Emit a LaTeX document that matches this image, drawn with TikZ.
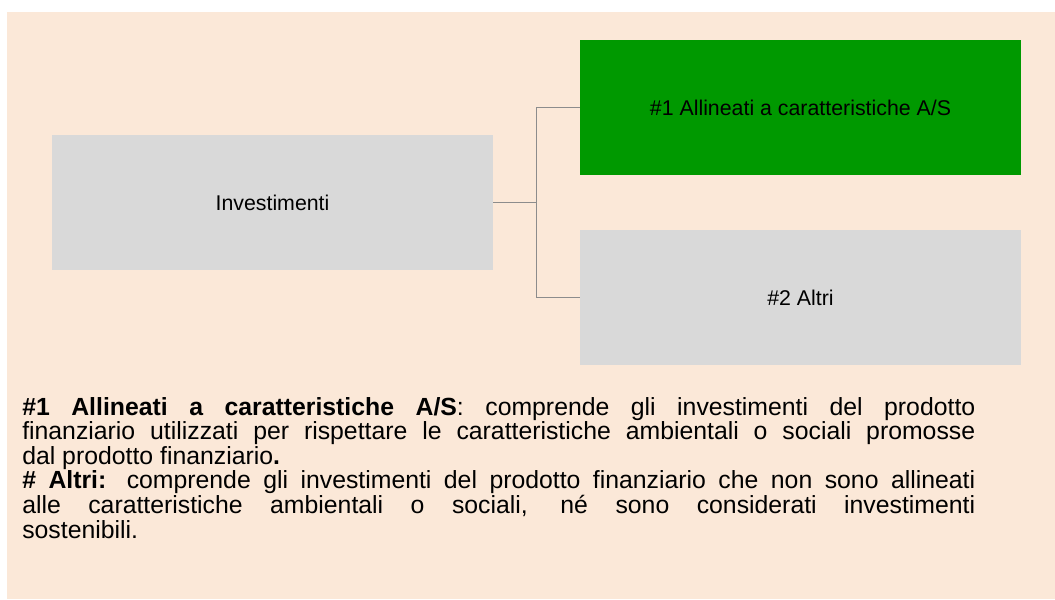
\documentclass[tikz,border=0pt]{standalone}
\usepackage{fontspec}
\setmainfont{Liberation Sans}
\definecolor{peach}{HTML}{FBE8D8}
\definecolor{boxgray}{HTML}{D9D9D9}
\definecolor{boxgreen}{HTML}{009900}
\definecolor{linegray}{HTML}{8C8C8C}
\begin{document}
\begin{tikzpicture}[x=0.75pt,y=-0.75pt,
  box/.style={rectangle, inner sep=0pt, minimum width=330.75pt, minimum height=101.25pt, font=\fontsize{16}{18.4}\selectfont, text=black},
  link/.style={draw=linegray, line width=1.1pt},
  legline/.style={anchor=base west, inner sep=0pt, font=\fontsize{18.6}{21}\selectfont}]
\useasboundingbox (0,0) rectangle (1055,599);
\fill[peach] (7,12) rectangle (1055,599);
\node[box, fill=boxgray] (inv) at (272.5,202.5) {Investimenti};
\node[box, fill=boxgreen] (a1) at (800.5,107.5) {\#1 Allineati a caratteristiche A/S};
\node[box, fill=boxgray] (a2) at (800.5,297.5) {\#2 Altri};
\coordinate (j) at (536.5,202.5);
\draw[link] (inv.east) -- (j);
\draw[link] (j) |- (a1.west);
\draw[link] (j) |- (a2.west);
\node[legline] (l1) at (22,415) {\makebox[714.75pt][s]{\textbf{\#1 Allineati a caratteristiche A/S}: comprende gli investimenti del prodotto}};
\node[legline] (l2) at (22,439.6) {\makebox[714.75pt][s]{finanziario utilizzati per rispettare le caratteristiche ambientali o sociali promosse}};
\node[legline] (l3) at (22,464.2) {dal prodotto finanziario\textbf{.}};
\node[legline] (l4) at (22,488.8) {\makebox[714.75pt][s]{\textbf{\# Altri:} comprende gli investimenti del prodotto finanziario che non sono allineati}};
\node[legline] (l5) at (22,513.4) {\makebox[714.75pt][s]{alle caratteristiche ambientali o sociali, né sono considerati investimenti}};
\node[legline] (l6) at (22,538) {sostenibili.};
\end{tikzpicture}
\end{document}
